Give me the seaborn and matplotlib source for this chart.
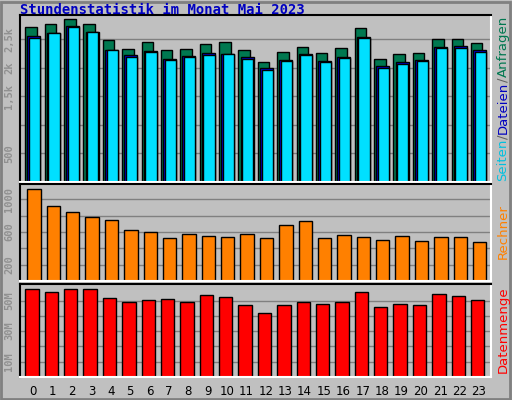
import matplotlib
matplotlib.use("Agg")
import matplotlib.pyplot as plt
import seaborn as sns
import numpy as np
import pandas as pd

hours = list(range(24))
anfragen = [2710, 2760, 2850, 2760, 2480, 2330, 2440, 2310, 2330, 2420, 2440, 2310,
            2090, 2280, 2360, 2260, 2340, 2690, 2150, 2240, 2260, 2500, 2500, 2430]
dateien = [2560, 2610, 2730, 2630, 2310, 2220, 2290, 2150, 2200, 2250, 2240, 2190,
           1990, 2130, 2240, 2110, 2190, 2540, 2020, 2090, 2130, 2360, 2370, 2300]
seiten = [2520, 2600, 2710, 2620, 2310, 2190, 2270, 2140, 2190, 2220, 2240, 2150,
          1960, 2110, 2220, 2090, 2170, 2520, 2000, 2070, 2110, 2340, 2350, 2280]
rechner = [1122, 919, 842, 779, 741, 627, 601, 525, 576, 551, 538, 576,
           529, 681, 731, 529, 567, 541, 504, 555, 491, 541, 541, 478]
datenmenge = [57.8, 55.8, 57.8, 57.8, 51.4, 48.8, 50.1, 50.7, 48.8, 53.9, 52.0, 46.9,
              42.0, 47.1, 49.0, 47.7, 49.0, 55.4, 45.8, 47.7, 47.1, 54.1, 52.8, 50.3]

W, H = 512, 400
BG = "#c0c0c0"
fig = plt.figure(figsize=(5.12, 4.0), dpi=100, facecolor=BG)

def axes_px(x0, y0, x1, y1):
    return fig.add_axes([x0 / W, 1 - y1 / H, (x1 - x0) / W, (y1 - y0) / H])

df = pd.DataFrame({"h": hours, "a": anfragen, "d": dateien, "s": seiten,
                   "r": rechner, "m": datenmenge})

def draw(ax, col, color, width, offset):
    n0 = len(ax.patches)
    sns.barplot(data=df, x="h", y=col, ax=ax, color=color, width=width,
                saturation=1, edgecolor="black", linewidth=1, native_scale=True)
    for p in ax.patches[n0:]:
        p.set_x(p.get_x() + offset)

def style(ax, ymax, labels, grid):
    ax.set_facecolor(BG)
    ax.set_xlim(-0.69, 23.62)
    ax.set_ylim(0, ymax)
    ax.yaxis.grid(True, color="#808080", linewidth=1)
    ax.set_axisbelow(True)
    ax.set_yticks(grid)
    lab = [labels.get(g, "") for g in grid]
    ax.set_yticklabels(lab, rotation=90, va="center", fontsize=7.5,
                       color="#909090", fontweight="bold", family="DejaVu Sans Mono")
    ax.tick_params(axis="y", length=0, pad=4)
    ax.set_xlabel(""); ax.set_ylabel("")
    for s in ["top", "left"]:
        ax.spines[s].set_color("black")
    for s in ["bottom", "right"]:
        ax.spines[s].set_color("white")
    for s in ax.spines.values():
        s.set_linewidth(1.5)

ax1 = axes_px(20, 15, 491, 182)
draw(ax1, "a", "#007850", 0.59, -0.12)
draw(ax1, "d", "#0000e0", 0.67, 0.03)
draw(ax1, "s", "#00e0ff", 0.58, 0.07)
style(ax1, 2920, {500: "500", 1500: "1,5k", 2000: "2k", 2500: "2,5k"},
      [500, 1000, 1500, 2000, 2500])
ax1.set_xticks([])

ax2 = axes_px(20, 184, 491, 281)
draw(ax2, "r", "#ff8000", 0.69, 0.03)
style(ax2, 1185, {200: "200", 600: "600", 1000: "1000"}, [200, 400, 600, 800, 1000])
ax2.set_xticks([])

ax3 = axes_px(20, 284, 491, 377)
draw(ax3, "m", "#ff0000", 0.69, -0.07)
style(ax3, 60.8, {10: "10M", 30: "30M", 50: "50M"}, [10, 20, 30, 40, 50])
ax3.set_xticks(hours)
ax3.set_xticklabels([str(h) for h in hours], fontsize=8.5)
ax3.tick_params(axis="x", length=0, pad=6)

fig.text(20 / W, 1 - 10 / H, "Stundenstatistik im Monat Mai 2023", color="#0000c0",
         fontsize=10, fontweight="bold", family="DejaVu Sans Mono", va="center")

renderer = fig.canvas.get_renderer()
ypx = 181
for s, c in [("Seiten", "#00c0e0"), ("/", "#606060"), ("Dateien", "#0000c0"),
             ("/", "#606060"), ("Anfragen", "#007850")]:
    t = fig.text(503 / W, 1 - ypx / H, s, rotation=90, color=c, fontsize=9.5,
                 ha="center", va="bottom")
    ext = t.get_window_extent(renderer)
    ypx -= ext.height
fig.text(503 / W, 1 - 232 / H, "Rechner", rotation=90, color="#ff8000", fontsize=9.5,
         ha="center", va="center")
fig.text(503 / W, 1 - 330 / H, "Datenmenge", rotation=90, color="#ff0000", fontsize=9.5,
         ha="center", va="center")

border = plt.Rectangle((0.002, 0.002), 0.994, 0.994, transform=fig.transFigure,
                       fill=False, edgecolor="#808080", linewidth=2)
fig.patches.append(border)

fig.savefig("out.png", dpi=100, facecolor=BG)
